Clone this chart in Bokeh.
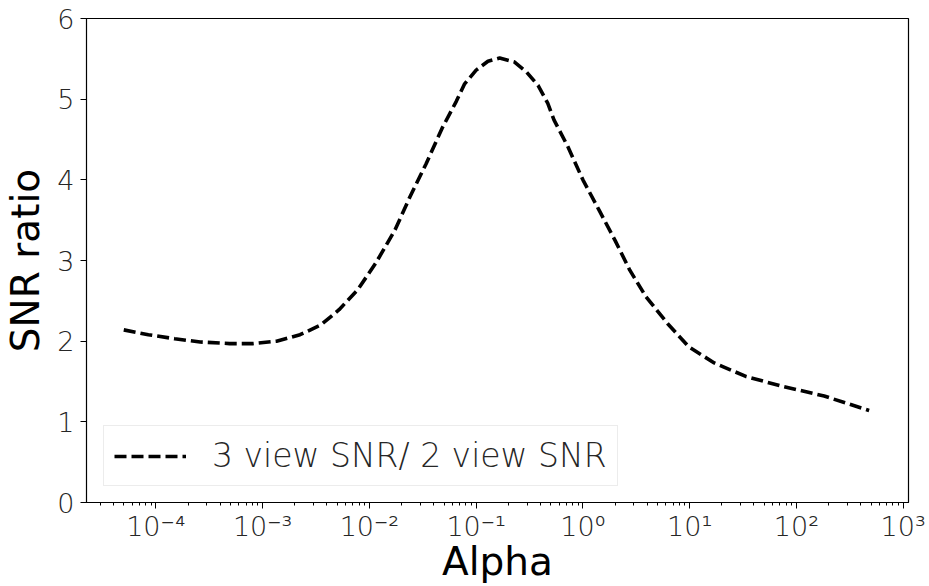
from bokeh.plotting import figure
from bokeh.models import Range1d, FixedTicker, LogTicker, CustomJSTickFormatter, Legend, LegendItem
from bokeh.embed import file_html
from bokeh.resources import INLINE

alpha = [5e-5, 8.5e-5, 1.5e-4, 2.6e-4, 4.9e-4, 8.1e-4, 1.35e-3, 2.24e-3, 3.5e-3,
         5.2e-3, 7.8e-3, 0.0115, 0.0174, 0.024, 0.034, 0.048, 0.065, 0.078, 0.1,
         0.129, 0.166, 0.229, 0.295, 0.38, 0.468, 0.537, 0.724, 1.0, 1.41, 2.0,
         2.75, 3.9, 6.2, 9.8, 17, 34, 74, 182, 480]
ratio = [2.14, 2.08, 2.03, 1.99, 1.97, 1.97, 2.00, 2.08, 2.20,
         2.39, 2.64, 2.97, 3.38, 3.79, 4.20, 4.64, 4.97, 5.19, 5.36,
         5.47, 5.51, 5.46, 5.34, 5.17, 4.95, 4.74, 4.41, 4.00, 3.63, 3.25,
         2.88, 2.55, 2.22, 1.93, 1.73, 1.56, 1.44, 1.32, 1.14]
y_ticks = [0, 1, 2, 3, 4, 5, 6]
legend_label = "3 view SNR/ 2 view SNR"
x_label = "Alpha"
y_label = "SNR ratio"

LIGHT = "'DejaVu Sans Light', 'DejaVu Sans ExtraLight', 'DejaVu Sans'"
REG = "DejaVu Sans"

p = figure(width=929, height=586, x_axis_type="log", output_backend="svg",
           toolbar_location=None,
           x_range=Range1d(10 ** -4.65, 10 ** 3.05), y_range=Range1d(0, 6),
           min_border_left=86, min_border_right=21, min_border_top=18,
           min_border_bottom=83)
p.background_fill_color = "white"
p.border_fill_color = "white"
p.outline_line_color = "black"
p.outline_line_width = 1.2
p.xgrid.visible = False
p.ygrid.visible = False

r = p.line(alpha, ratio, line_color="black", line_width=3.6, line_dash="12 5")

p.yaxis.ticker = FixedTicker(ticks=y_ticks)
p.xaxis.ticker = LogTicker(num_minor_ticks=10)
p.xaxis.formatter = CustomJSTickFormatter(code="""
const e = Math.round(Math.log10(tick));
const sup = {'-':'\u207b','0':'\u2070','1':'\u00b9','2':'\u00b2','3':'\u00b3','4':'\u2074','5':'\u2075','6':'\u2076','7':'\u2077','8':'\u2078','9':'\u2079'};
return '10' + String(e).split('').map(c => sup[c]).join('');
""")

for ax in (p.xaxis[0], p.yaxis[0]):
    ax.axis_line_color = "black"
    ax.major_tick_line_color = "black"
    ax.minor_tick_line_color = "black"
    ax.major_tick_out = 6
    ax.major_tick_in = 0
    ax.minor_tick_out = 3
    ax.minor_tick_in = 0
    ax.major_label_text_font = LIGHT
    ax.major_label_text_font_size = "27px"
    ax.major_label_text_color = "#262626"
    ax.major_label_standoff = 6
    ax.axis_label_text_font = REG
    ax.axis_label_text_font_size = "39px"
    ax.axis_label_text_font_style = "normal"
    ax.axis_label_text_color = "black"

p.yaxis.minor_tick_line_color = None
p.xaxis.axis_label = x_label
p.yaxis.axis_label = y_label
p.xaxis.major_label_standoff = 2
p.xaxis.axis_label_standoff = -6
p.yaxis.axis_label_standoff = 6

legend = Legend(items=[LegendItem(label=legend_label, renderers=[r])],
                location=(17, 16), margin=0)
legend.label_text_font = LIGHT
legend.label_text_font_size = "33px"
legend.label_text_color = "#262626"
legend.glyph_width = 72
legend.label_standoff = 26
legend.padding = 10
legend.border_line_color = "#d9d9d9"
legend.border_line_width = 1.5
legend.background_fill_alpha = 0.9
p.add_layout(legend)

open("out.html", "w").write(file_html(p, INLINE))
